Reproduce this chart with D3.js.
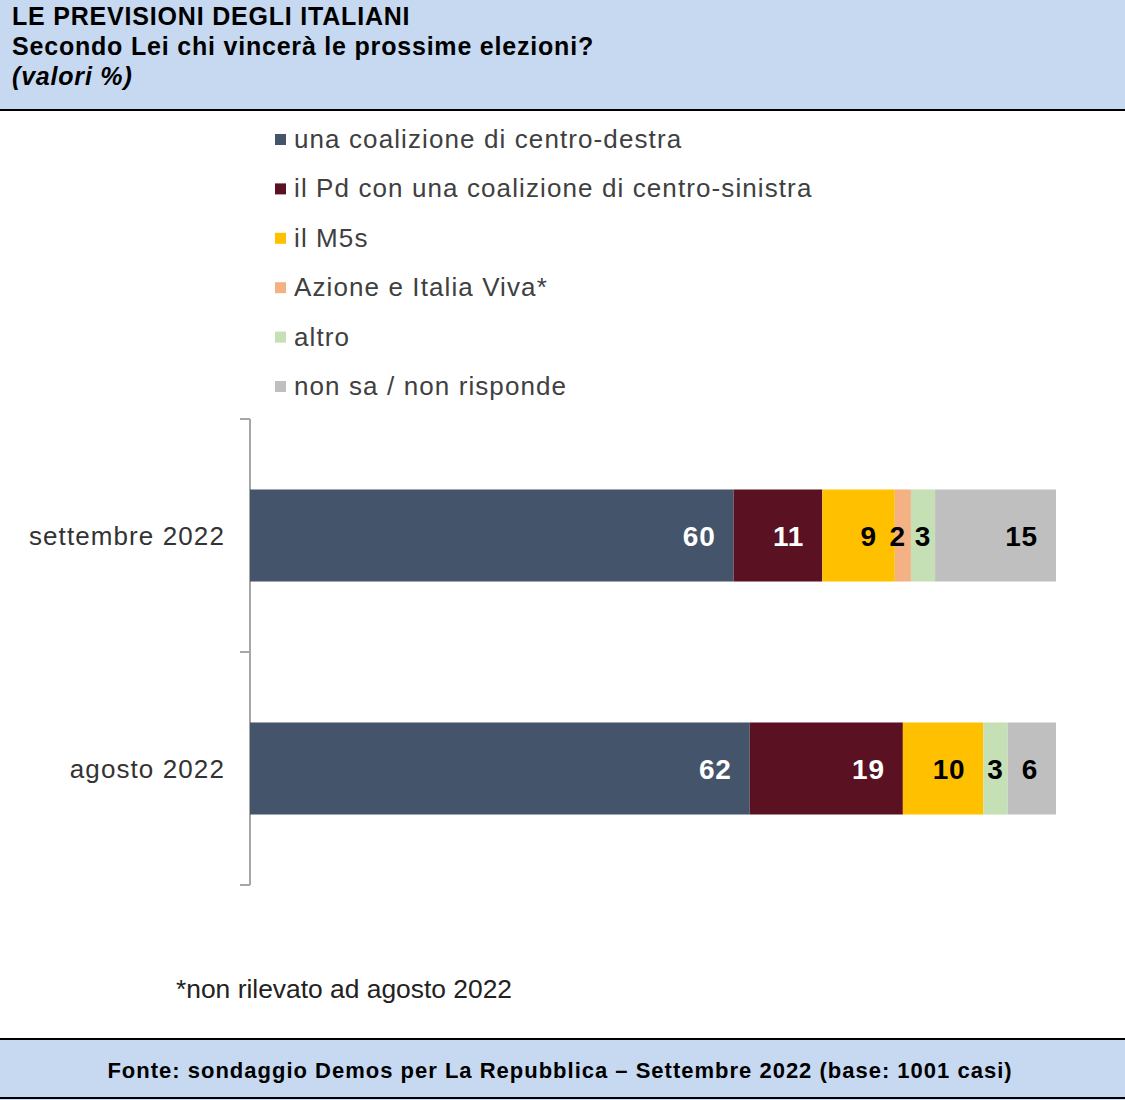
<!DOCTYPE html>
<html><head><meta charset="utf-8">
<script src="https://cdn.jsdelivr.net/npm/d3@7"></script>
<style>body{margin:0;background:#fff}svg{display:block;font-family:"Liberation Sans",Arial,sans-serif}</style>
</head><body><svg id="c" width="1125" height="1100"></svg>
<script>
const titleLines = ["LE PREVISIONI DEGLI ITALIANI", "Secondo Lei chi vincerà le prossime elezioni?", "(valori %)"];
const categories = ["settembre 2022", "agosto 2022"];
const seriesNames = ["una coalizione di centro-destra", "il Pd con una coalizione di centro-sinistra", "il M5s", "Azione e Italia Viva*", "altro", "non sa / non risponde"];
const seriesKeys = ["cdx", "pd", "m5s", "az", "altro", "ns"];
const seriesColors = ["#44546a", "#5a1222", "#ffc000", "#f4b183", "#c5e0b4", "#bfbfbf"];
const labelColors = ["#fff", "#fff", "#000", "#000", "#000", "#000"];
const valCdx = [60, 62];
const valPd = [11, 19];
const valM5s = [9, 10];
const valAz = [2, 0];
const valAltro = [3, 3];
const valNs = [15, 6];
const footnote = "*non rilevato ad agosto 2022";
const source = "Fonte: sondaggio Demos per La Repubblica – Settembre 2022 (base: 1001 casi)";

const seriesVals = [valCdx, valPd, valM5s, valAz, valAltro, valNs];
const rows = categories.map((c, i) => {
  const r = {cat: c};
  seriesKeys.forEach((k, j) => r[k] = seriesVals[j][i]);
  return r;
});

const svg = d3.select("#c");

// header
svg.append("rect").attr("x", 0).attr("y", 0).attr("width", 1125).attr("height", 110).attr("fill", "#c6d9f1");
svg.append("line").attr("x1", 0).attr("x2", 1125).attr("y1", 110).attr("y2", 110).attr("stroke", "#000").attr("stroke-width", 2);
svg.selectAll("text.title").data(titleLines).enter().append("text")
  .attr("x", 12).attr("y", (d, i) => 25 + i * 30)
  .attr("font-size", 25).attr("font-weight", "bold").attr("letter-spacing", 0.8)
  .attr("font-style", (d, i) => i === 2 ? "italic" : "normal")
  .attr("fill", "#000").text(d => d);

// footer
svg.append("rect").attr("x", 0).attr("y", 1039).attr("width", 1125).attr("height", 61).attr("fill", "#c6d9f1");
svg.append("line").attr("x1", 0).attr("x2", 1125).attr("y1", 1039).attr("y2", 1039).attr("stroke", "#000").attr("stroke-width", 2);
svg.append("line").attr("x1", 0).attr("x2", 1125).attr("y1", 1098).attr("y2", 1098).attr("stroke", "#000").attr("stroke-width", 2);
svg.append("text").attr("x", 560).attr("y", 1078).attr("text-anchor", "middle")
  .attr("font-size", 22).attr("font-weight", "bold").attr("letter-spacing", 1).attr("fill", "#000").text(source);

// footnote
svg.append("text").attr("x", 176).attr("y", 998).attr("font-size", 25)
  .attr("fill", "#222").attr("textLength", 336).attr("lengthAdjust", "spacingAndGlyphs").text(footnote);

// legend
const lg = svg.append("g");
const li = lg.selectAll("g").data(seriesNames).enter().append("g")
  .attr("transform", (d, i) => `translate(275,${139 + i * 49.4})`);
li.append("rect").attr("x", 0).attr("y", -5).attr("width", 11).attr("height", 11).attr("fill", (d, i) => seriesColors[i]);
li.append("text").attr("x", 19).attr("y", 9).attr("font-size", 26).attr("letter-spacing", 1.1)
  .attr("fill", "#404040").text(d => d);

// scales
const x = d3.scaleLinear().domain([0, 100]).range([250, 1056]);
const y = d3.scaleBand().domain(categories).range([419, 885]).paddingInner(0.605).paddingOuter(0.3025);
const yb = d3.scaleBand().domain(categories).range([419, 885]);

// axis
const ax = svg.append("g").attr("transform", "translate(250,0)")
  .call(d3.axisLeft(yb).tickSize(0).tickPadding(25));
ax.select(".domain").remove();
ax.selectAll("text").attr("font-size", 26).attr("letter-spacing", 1.1).attr("fill", "#333")
  .attr("font-family", "Liberation Sans, Arial, sans-serif").attr("dy", "0.35em");
const bounds = [yb.range()[0]].concat(categories.map(c => yb(c) + yb.bandwidth()));
svg.append("line").attr("x1", 250).attr("x2", 250).attr("y1", bounds[0]).attr("y2", bounds[bounds.length - 1])
  .attr("stroke", "#a6a6a6").attr("stroke-width", 2);
svg.selectAll("line.tk").data(bounds).enter().append("line").attr("class", "tk")
  .attr("x1", 240).attr("x2", 250).attr("y1", d => d).attr("y2", d => d)
  .attr("stroke", "#a6a6a6").attr("stroke-width", 2);

// bars
const stack = d3.stack().keys(seriesKeys)(rows);
const layers = svg.selectAll("g.layer").data(stack).enter().append("g").attr("class", "layer");
layers.selectAll("rect").data(d => d.map(p => ({p, k: d.key, i: d.index}))).enter().append("rect")
  .attr("x", d => x(d.p[0])).attr("y", d => y(d.p.data.cat))
  .attr("width", d => x(d.p[1]) - x(d.p[0])).attr("height", y.bandwidth())
  .attr("fill", d => seriesColors[d.i]);

// labels
layers.selectAll("text").data(d => d.map(p => ({p, k: d.key, i: d.index})).filter(d => d.p[1] - d.p[0] > 0)).enter().append("text")
  .attr("font-size", 28).attr("font-weight", "bold").attr("letter-spacing", 0.8)
  .attr("fill", d => labelColors[d.i])
  .attr("y", d => y(d.p.data.cat) + y.bandwidth() / 2).attr("dy", "0.36em")
  .text(d => d.p[1] - d.p[0])
  .each(function(d) {
    const w = this.getComputedTextLength();
    const x0 = x(d.p[0]), x1 = x(d.p[1]);
    const t = d3.select(this);
    if (x1 - x0 > w + 30) t.attr("text-anchor", "end").attr("x", x1 - 18);
    else if (x1 - x0 < w) t.attr("text-anchor", "end").attr("x", x1 - 5);
    else t.attr("text-anchor", "middle").attr("x", (x0 + x1) / 2);
  });
</script></body></html>
